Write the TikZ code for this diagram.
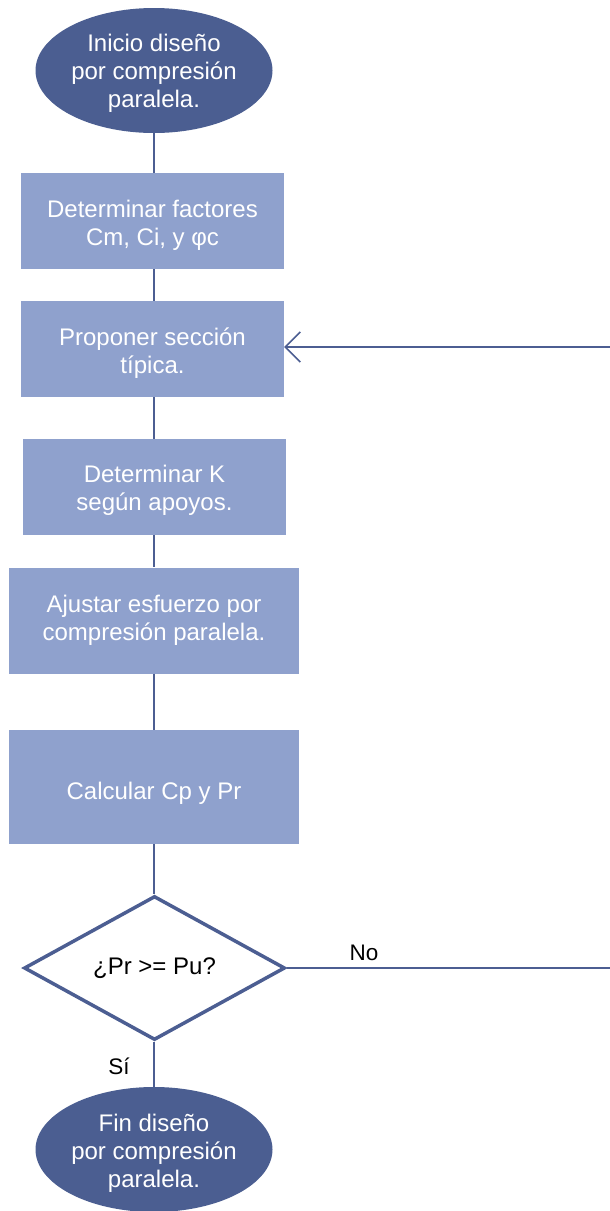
\documentclass[tikz,border=0pt]{standalone}
\usepackage{fontspec}
\setmainfont{Liberation Sans}
\usetikzlibrary{shapes.geometric,arrows.meta}
\definecolor{darkblue}{RGB}{75,94,145}
\definecolor{boxblue}{RGB}{143,161,205}
\definecolor{linecol}{RGB}{76,94,146}
\newcommand{\shifted}[2]{\raisebox{-#1}[\height][\depth]{\begin{tabular}{@{}c@{}}#2\end{tabular}}}
\tikzset{
  base/.style={font=\fontsize{24}{28}\selectfont, align=center, inner sep=0pt},
  term/.style={base, ellipse, fill=darkblue, text=white, minimum width=237pt, minimum height=125pt},
  procbox/.style={base, rectangle, fill=boxblue, text=white},
  decis/.style={base, diamond, draw=linecol, line width=3.5pt, fill=white, aspect=1.8, minimum width=261pt, minimum height=144pt},
  conn/.style={draw=linecol, line width=1.5pt},
  lbl/.style={font=\fontsize{22.5}{26}\selectfont, inner sep=0pt}
}
\begin{document}
\begin{tikzpicture}[x=1pt,y=-1pt]
\useasboundingbox (0,0) rectangle (610,1211);
\node[term] (start) at (154,70.5) {\shifted{3pt}{Inicio diseño\\por compresión\\paralela.}};
\node[procbox, minimum width=263pt, minimum height=96pt] (b1) at (152.5,221) {\shifted{4.5pt}{Determinar factores\\Cm, Ci, y φc}};
\node[procbox, minimum width=263pt, minimum height=96pt] (b2) at (152.5,349) {\shifted{4.5pt}{Proponer sección\\típica.}};
\node[procbox, minimum width=263pt, minimum height=96pt] (b3) at (154.5,487) {\shifted{3.5pt}{Determinar K\\según apoyos.}};
\node[procbox, minimum width=290pt, minimum height=106pt] (b4) at (154,620.5) {\shifted{0pt}{Ajustar esfuerzo por\\compresión paralela.}};
\node[procbox, minimum width=290pt, minimum height=114pt] (b5) at (154,787) {\raisebox{-6pt}[\height][\depth]{Calcular Cp y Pr}};
\node[decis] (d) at (154.5,968) {¿Pr >= Pu?};
\node[term] (end) at (154,1149.5) {\shifted{4.5pt}{Fin diseño\\por compresión\\paralela.}};
\coordinate (rno) at (610,968);
\coordinate (rback) at (610,347);
\node[lbl] (no) at (364,953) {No};
\node[lbl] (si) at (119,1066) {Sí};
\path[conn] (start.south) -- (start.south |- b1.north);
\path[conn] (b1.south -| start.south) -- (b2.north -| start.south);
\path[conn] (b2.south -| start.south) -- (b3.north -| start.south);
\path[conn] (b3.south -| start.south) -- (b4.north -| start.south);
\path[conn] (b4.south -| start.south) -- (b5.north -| start.south);
\path[conn] (b5.south -| start.south) -- (d.north -| start.south);
\path[conn] (d.south -| start.south) -- (end.north);
\path[conn] (d.east) -- (rno);
\path[conn, -{Straight Barb[length=15pt,width=30pt,line width=1.5pt]}] (rback) -- (rback -| b2.east);
\end{tikzpicture}
\end{document}
